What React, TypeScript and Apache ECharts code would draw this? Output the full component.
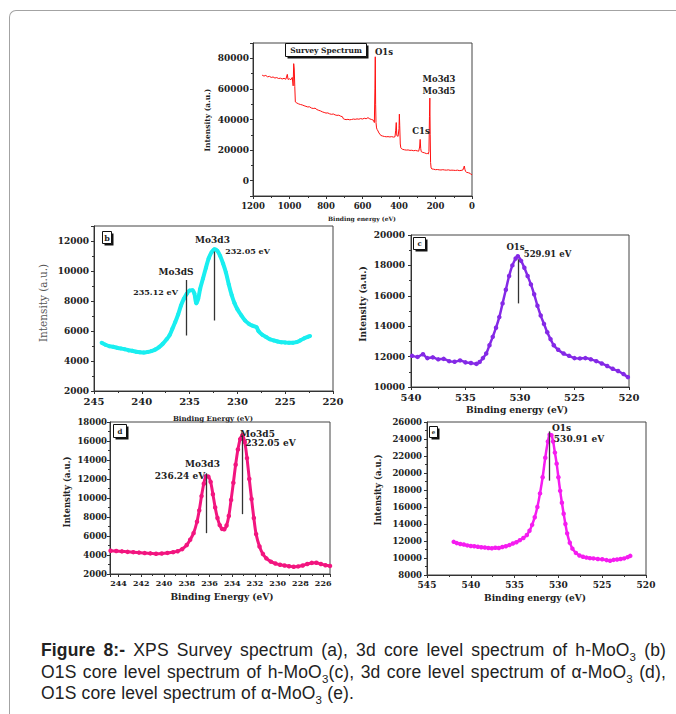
import React, { useEffect, useRef } from 'react';
import * as echarts from 'echarts';

// ---------- Data ----------
// (a) Survey spectrum
const surveyEnergy = [1150,1140,1130,1120,1110,1100,1090,1080,1070,1060,1050,1040,1030,1020,1012,1008,1000,992,985,980,977,974,971,968,960,950,940,930,920,910,900,890,880,870,860,850,840,830,820,810,800,790,780,770,760,750,740,730,720,710,705,700,690,680,670,660,650,640,630,620,610,600,590,580,570,560,550,540,535,532,530,528,526,523,520,515,510,505,500,490,480,470,460,450,440,430,422,418,415,412,405,400,398,396,393,390,385,380,370,360,350,340,330,320,310,300,292,287,284,281,278,270,260,250,245,240,236,233,231,229,227,224,220,210,200,190,180,170,160,150,140,130,120,110,100,90,80,70,60,50,45,42,39,35,30,20,10,5,0];
const surveyIntensity = [69000,68400,68800,67900,68200,67500,67800,67100,67400,66800,67000,66500,66900,66300,69500,66200,66600,66000,67500,62000,76500,73000,61500,51500,50800,50200,49800,49500,49000,48600,48200,48300,47500,47200,47400,46500,46000,45600,45000,44600,44200,44300,43700,43400,43600,43000,42700,42800,42200,41800,40500,40200,39900,40100,39800,40000,40300,40100,40400,40200,40600,40300,40800,40500,41200,40400,40000,39500,38000,60000,81000,50000,38000,34500,33500,32500,31200,30500,29600,29200,28900,28700,28800,28600,28800,28500,28700,33000,38000,29500,29000,34000,43500,36000,24000,21500,20800,20500,20200,20000,20100,19800,19900,19600,19800,19500,19300,22000,27000,21000,19000,18500,18200,17700,17900,17400,19000,42000,54000,30000,12000,8300,7700,7500,7200,7300,7100,7000,7200,7000,6900,7100,6800,6900,6800,6700,6900,6600,6700,7000,8800,9600,7500,6000,5500,5200,4800,4000,4200];

// (b) 3d core level, h-MoO3
const bEnergy = [244.2,243.8,243.4,243.0,242.6,242.2,241.8,241.4,241.0,240.6,240.2,239.8,239.4,239.0,238.6,238.2,237.8,237.4,237.1,236.8,236.5,236.2,235.9,235.6,235.3,235.0,234.7,234.5,234.3,234.1,233.9,233.6,233.3,233.0,232.7,232.4,232.1,231.8,231.5,231.2,230.9,230.6,230.3,230.0,229.6,229.2,228.8,228.4,228.0,227.8,227.4,227.0,226.6,226.2,225.8,225.4,225.0,224.6,224.2,223.8,223.4,223.0,222.6,222.4];
const bIntensity = [5220,5080,4990,4950,4880,4840,4790,4720,4680,4620,4580,4560,4600,4660,4760,4920,5150,5450,5710,6150,6600,7100,7700,8150,8480,8700,8720,8500,7850,8150,8800,9500,10200,10850,11250,11450,11350,11000,10500,9900,9100,8400,7850,7450,7050,6700,6480,6350,6250,6000,5750,5600,5450,5370,5300,5250,5240,5210,5220,5260,5380,5520,5620,5660];
const bPeakLines = [ { x: 235.4, from: 5700, to: 9400 }, { x: 232.4, from: 6700, to: 11300 } ];

// (c) O1s core level, h-MoO3
const cEnergy = [539.9,539.4,538.9,538.5,538.0,537.5,537.0,536.5,536.0,535.5,535.0,534.5,534.0,533.7,533.4,533.1,532.8,532.5,532.2,531.9,531.6,531.3,531.0,530.7,530.4,530.2,529.9,529.6,529.3,529.0,528.7,528.4,528.1,527.8,527.5,527.2,526.9,526.5,526.0,525.5,525.0,524.5,524.0,523.5,523.0,522.5,522.0,521.5,521.0,520.5,520.1];
const cIntensity = [12050,11980,12150,11900,11950,11820,11850,11700,11660,11750,11620,11580,11520,11650,11900,12200,12750,13300,13900,14600,15500,16400,17300,18000,18450,18600,18300,17850,17300,16750,16100,15350,14700,14150,13600,13150,12750,12450,12200,12050,11900,11880,11900,11820,11700,11550,11380,11200,11050,10850,10650];
const cPeakLines = [ { x: 530.2, from: 15500, to: 18400 } ];

// (d) 3d core level, alpha-MoO3
const dEnergy = [244.7,244.2,243.7,243.2,242.7,242.2,241.7,241.2,240.7,240.2,239.7,239.2,238.8,238.4,238.0,237.7,237.4,237.1,236.9,236.7,236.5,236.3,236.1,235.9,235.7,235.5,235.3,235.1,234.9,234.7,234.5,234.3,234.1,233.9,233.7,233.5,233.3,233.1,232.9,232.7,232.5,232.3,232.1,231.9,231.6,231.3,231.0,230.6,230.2,229.8,229.4,229.0,228.6,228.2,227.8,227.4,227.0,226.6,226.2,225.8,225.4];
const dIntensity = [4450,4420,4380,4330,4300,4250,4200,4170,4130,4160,4220,4300,4400,4620,5050,5600,6300,7500,8700,10200,11500,12300,12250,11700,10400,9000,7900,7150,6750,6700,7100,8100,9800,11600,13500,15100,16200,16600,15900,14200,12000,9900,7900,6200,4900,4100,3650,3300,3100,2980,2900,2820,2760,2800,2900,3050,3170,3180,3050,2920,2850];
const dPeakLines = [ { x: 236.25, from: 6300, to: 12600 }, { x: 233.15, from: 8300, to: 16600 } ];

// (e) O1s core level, alpha-MoO3
const eEnergy = [541.95,541.6,541.2,540.8,540.4,540.0,539.6,539.2,538.8,538.4,538.0,537.6,537.2,536.8,536.4,536.0,535.6,535.2,534.8,534.4,534.0,533.6,533.3,533.0,532.7,532.4,532.1,531.8,531.5,531.2,531.0,530.8,530.6,530.4,530.2,530.0,529.8,529.6,529.4,529.2,529.0,528.7,528.4,528.0,527.6,527.2,526.8,526.4,526.0,525.5,525.0,524.5,524.1,523.7,523.3,522.9,522.5,522.1,521.8];
const eIntensity = [11900,11750,11650,11580,11480,11420,11380,11320,11260,11230,11180,11150,11200,11180,11300,11380,11520,11700,11850,12100,12350,12700,13200,13900,14800,16000,17600,19500,21800,23700,24500,24450,23700,22400,21100,19500,17900,16500,15200,14000,12900,11800,11100,10600,10300,10150,10050,9980,9950,9880,9850,9750,9680,9780,9820,9880,9950,10100,10250];
const ePeakLines = [ { x: 531.0, from: 19100, to: 24900 } ];

// Axis ranges / ticks
const axesX = [
  { min: 0, max: 1200, step: 200 },
  { min: 220, max: 245, step: 5 },
  { min: 520, max: 540, step: 5 },
  { min: 225.4, max: 244.75, step: 2 },
  { min: 520, max: 545, step: 5 },
];
const axesY = [
  { min: -10000, max: 90000, step: 20000 },
  { min: 2000, max: 13000, step: 2000 },
  { min: 10000, max: 20000, step: 2000 },
  { min: 2000, max: 18000, step: 2000 },
  { min: 8000, max: 26000, step: 2000 },
];

const SERIF = '"DejaVu Serif", "Liberation Serif", serif';

const zip = (xs: number[], ys: number[]) => xs.map((x, i) => [x, ys[i]]);
const isMultiple = (v: number, step: number) => Math.abs(v / step - Math.round(v / step)) < 1e-6;

export default function App() {
  const ref = useRef<HTMLDivElement>(null);

  useEffect(() => {
    if (!ref.current) return;
    const chart = echarts.init(ref.current, undefined, { renderer: 'svg' });

    const grids = [
      { left: 253, top: 43, width: 219, height: 153 },
      { left: 94, top: 226, width: 239, height: 165 },
      { left: 411, top: 235, width: 218, height: 152 },
      { left: 110, top: 422, width: 220, height: 152 },
      { left: 427, top: 422, width: 219, height: 153 },
    ];
    const xFont = [8.5, 10, 10, 8, 9];
    const yFont = [9, 9, 9, 8.5, 8.5];

    const axisCommon = (gi: number, a: { min: number; max: number; step: number }, fs: number, isX: boolean, margin: number) => ({
      type: 'value',
      gridIndex: gi,
      min: a.min,
      max: a.max,
      inverse: isX,
      splitNumber: Math.max(1, Math.round((a.max - a.min) / a.step)),
      minInterval: a.step,
      maxInterval: a.step,
      axisLine: { show: true, onZero: false, lineStyle: { color: '#333', width: 1 } },
      axisTick: { show: true, inside: false, length: 3, lineStyle: { color: '#333', width: 1 } },
      minorTick: { show: true, splitNumber: 2, length: 2, lineStyle: { color: '#333', width: 1 } },
      splitLine: { show: false },
      axisLabel: {
        margin,
        fontFamily: SERIF,
        fontWeight: 'bold',
        fontSize: fs,
        color: '#222',
        formatter: (v: number) => (isMultiple(v, a.step) ? String(Math.round(v)) : ''),
      },
    });

    const xAxis = axesX.map((a, i) => axisCommon(i, a, xFont[i], true, 5));
    const yAxis = axesY.map((a, i) => axisCommon(i, a, yFont[i], false, [4, 5, 6, 3, 5][i]));

    const mkLines = (lines: { x: number; from: number; to: number }[]) => ({
      silent: true,
      symbol: 'none',
      label: { show: false },
      lineStyle: { color: '#333', width: 1.3, type: 'solid' },
      data: lines.map((l) => [{ coord: [l.x, l.from] }, { coord: [l.x, l.to] }]),
    });

    const series: any[] = [
      {
        type: 'line', xAxisIndex: 0, yAxisIndex: 0, data: zip(surveyEnergy, surveyIntensity),
        showSymbol: false, lineStyle: { color: '#ff1010', width: 1 }, itemStyle: { color: '#ff1010' },
      },
      {
        type: 'line', xAxisIndex: 1, yAxisIndex: 1, data: zip(bEnergy, bIntensity),
        showSymbol: true, symbol: 'circle', symbolSize: 4, smooth: 0.3,
        lineStyle: { color: '#19eef0', width: 4 }, itemStyle: { color: '#19eef0' },
        markLine: mkLines(bPeakLines),
      },
      {
        type: 'line', xAxisIndex: 2, yAxisIndex: 2, data: zip(cEnergy, cIntensity),
        showSymbol: true, symbol: 'circle', symbolSize: 4.5, smooth: 0.3,
        lineStyle: { color: '#8429e6', width: 2.5 }, itemStyle: { color: '#8429e6' },
        markLine: mkLines(cPeakLines),
      },
      {
        type: 'line', xAxisIndex: 3, yAxisIndex: 3, data: zip(dEnergy, dIntensity),
        showSymbol: true, symbol: 'circle', symbolSize: 4.5, smooth: 0.3,
        lineStyle: { color: '#f2157f', width: 3 }, itemStyle: { color: '#f2157f' },
        markLine: mkLines(dPeakLines),
      },
      {
        type: 'line', xAxisIndex: 4, yAxisIndex: 4, data: zip(eEnergy, eIntensity),
        showSymbol: true, symbol: 'circle', symbolSize: 4.5, smooth: 0.3,
        lineStyle: { color: '#f51cf0', width: 2.5 }, itemStyle: { color: '#f51cf0' },
        markLine: mkLines(ePeakLines),
      },
    ];

    const txt = (text: string, x: number, y: number, size: number, opts: any = {}) => ({
      type: 'text',
      x,
      y,
      rotation: opts.rotation || 0,
      z: 100,
      silent: true,
      style: {
        text,
        fill: opts.fill || '#222',
        fontFamily: opts.family || SERIF,
        fontWeight: opts.weight || 'bold',
        fontSize: size,
        align: opts.align || 'center',
        verticalAlign: 'middle',
      },
    });

    const shadowBox = (x: number, y: number, w: number, h: number, sh: number) => [
      { type: 'rect', z: 99, silent: true, shape: { x: x + sh, y: y + sh, width: w, height: h }, style: { fill: '#111' } },
      { type: 'rect', z: 99, silent: true, shape: { x, y, width: w, height: h }, style: { fill: '#fff', stroke: '#111', lineWidth: 1 } },
    ];

    const graphic: any[] = [
      // panel a
      ...shadowBox(285.5, 43.5, 81, 13, 2),
      txt('Survey Spectrum', 326, 50.5, 7.5),
      txt('O1s', 384, 52, 8.5),
      txt('Mo3d3', 439, 79, 8.5),
      txt('Mo3d5', 439, 91, 8.5),
      txt('C1s', 421, 131, 8.5),
      txt('Binding energy (eV)', 362, 218, 6),
      txt('Intensity (a.u.)', 207, 120, 7.5, { rotation: Math.PI / 2 }),
      // panel b
      ...shadowBox(102.5, 231.5, 9, 12, 2),
      txt('b', 107, 237.5, 8),
      txt('Mo3dS', 176, 272, 9),
      txt('235.12 eV', 155.5, 292, 8),
      txt('Mo3d3', 212.5, 240, 9),
      txt('232.05 eV', 247.5, 251, 8),
      txt('Binding Energy (eV)', 213, 418, 7),
      txt('Intensity (a.u.)', 43, 303, 10.5, { rotation: Math.PI / 2, weight: 'normal', fill: '#555' }),
      // panel c
      ...shadowBox(413.5, 237.5, 12, 12, 2),
      txt('c', 419.5, 243.5, 7),
      txt('O1s', 515.5, 247, 8.5),
      txt('529.91 eV', 547.5, 254, 8.5),
      txt('Binding energy (eV)', 517, 410, 9),
      txt('Intensity (a.u.)', 363, 304, 9, { rotation: Math.PI / 2 }),
      // panel d
      ...shadowBox(113.5, 424.5, 13, 13, 2),
      txt('d', 120, 431, 7),
      txt('Mo3d3', 202.5, 464, 9),
      txt('236.24 eV', 180, 476, 9),
      txt('Mo3d5', 257.5, 434, 9),
      txt('232.05 eV', 270.5, 443, 9),
      txt('Binding Energy (eV)', 222, 597, 9),
      txt('Intensity (a.u.)', 67, 492, 8.5, { rotation: Math.PI / 2 }),
      // panel e
      ...shadowBox(429.5, 426.5, 8, 11, 2),
      txt('e', 433.5, 432, 5.5),
      txt('O1s', 561.5, 428, 9),
      txt('530.91 eV', 579, 439, 9),
      txt('Binding energy (eV)', 535, 598, 9),
      txt('Intensity (a.u.)', 378, 490, 8.5, { rotation: Math.PI / 2 }),
    ];

    chart.setOption({
      animation: false,
      backgroundColor: 'transparent',
      grid: grids.map((g) => ({ ...g, show: true, borderColor: '#444', borderWidth: 1, backgroundColor: 'transparent', containLabel: false })),
      xAxis,
      yAxis,
      series,
      graphic,
    } as any);

    return () => chart.dispose();
  }, []);

  const sub = (s: string) => (
    <span style={{ fontSize: 11.5, verticalAlign: 'sub', lineHeight: 0 }}>{s}</span>
  );
  const lineStyle: React.CSSProperties = { textAlign: 'justify', textAlignLast: 'justify' as any, height: 21.5 };

  return (
    <div style={{ position: 'absolute', left: 0, top: 0, width: 676, height: 714, background: '#fff', overflow: 'hidden' }}>
      <div
        style={{
          position: 'absolute', left: 9, top: 10, width: 720, height: 760,
          borderLeft: '1.5px solid #a3a3a3', borderTop: '1.5px solid #a3a3a3', borderTopLeftRadius: 7,
        }}
      />
      <div ref={ref} style={{ position: 'absolute', left: 0, top: 0, width: 676, height: 630 }} />
      <div
        style={{
          position: 'absolute', left: 41, top: 640, width: 625,
          fontFamily: '"Liberation Sans", Arial, sans-serif', fontSize: 17.5, lineHeight: '21.5px', color: '#222',
          letterSpacing: 0.15,
        }}
      >
        <div style={lineStyle}>
          <b>Figure 8:-</b> XPS Survey spectrum (a), 3d core level spectrum of h-MoO{sub('3')} (b)
        </div>
        <div style={lineStyle}>
          O1S core level spectrum of h-MoO{sub('3')}(c), 3d core level spectrum of α-MoO{sub('3')} (d),
        </div>
        <div style={{ height: 21.5 }}>
          O1S core level spectrum of α-MoO{sub('3')} (e).
        </div>
      </div>
    </div>
  );
}
